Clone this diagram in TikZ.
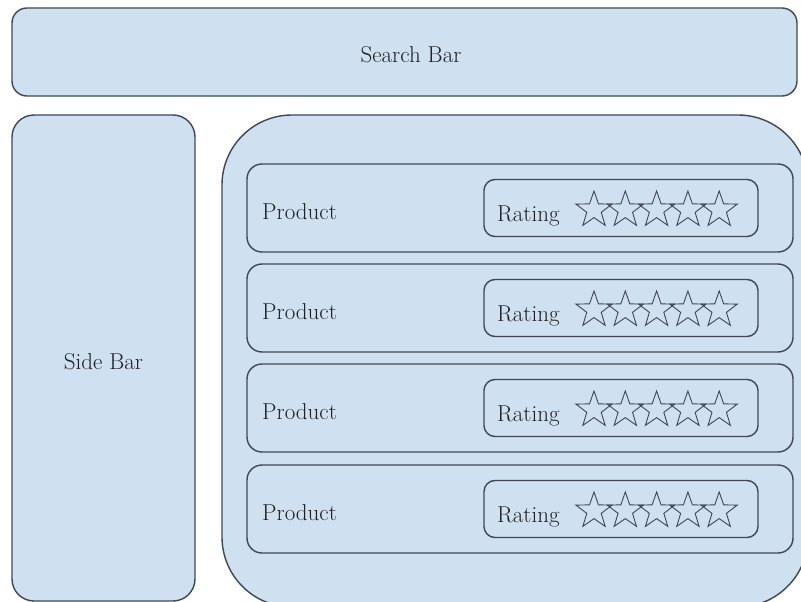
\documentclass[tikz,border=0pt]{standalone}
\usetikzlibrary{shapes.geometric}
\definecolor{boxfill}{RGB}{207,224,241}
\definecolor{boxline}{RGB}{62,72,84}
\definecolor{txt}{RGB}{30,32,36}
\begin{document}
\begin{tikzpicture}[x=1pt,y=-1pt,
  panel/.style={draw=boxline,fill=boxfill,line width=1.4pt,inner sep=0pt},
  lbl/.style={text=txt,font=\fontsize{23}{27}\selectfont,inner sep=0pt},
  staricon/.style={star,star points=5,star point ratio=2.5,draw=boxline,line width=0.9pt,minimum size=38pt,inner sep=0pt}
]
\useasboundingbox (0,0) rectangle (801,602);
\clip (0,0) rectangle (801,602);
\fill[white] (0,0) rectangle (801,602);
\node[panel,rounded corners=15pt,minimum width=785pt,minimum height=88pt] (search) at (404.5,52) {};
\node[lbl,anchor=base] (searchtxt) at (411,63) {Search Bar};
\node[panel,rounded corners=22pt,minimum width=183pt,minimum height=486pt] (side) at (103.5,358) {};
\node[lbl,anchor=base] (sidetxt) at (103.5,369) {Side Bar};
\node[panel,rounded corners=70pt,minimum width=586pt,minimum height=492pt] (main) at (515,361) {};
\foreach \i/\y in {1/208,2/308,3/408,4/509}{
  \node[panel,rounded corners=15pt,minimum width=546pt,minimum height=88pt] (row\i) at (520,\y) {};
  \node[lbl,anchor=base west] (prod\i) at (262,\y+11) {Product};
  \node[panel,rounded corners=11pt,minimum width=274pt,minimum height=57pt] (rate\i) at (621,\y) {};
  \node[lbl,anchor=base west] (ratetxt\i) at (497,\y+13) {Rating};
  \foreach \k in {0,...,4}{
    \node[staricon] (star\i\k) at (594+31.3*\k,\y+2) {};
  }
}
\end{tikzpicture}
\end{document}
